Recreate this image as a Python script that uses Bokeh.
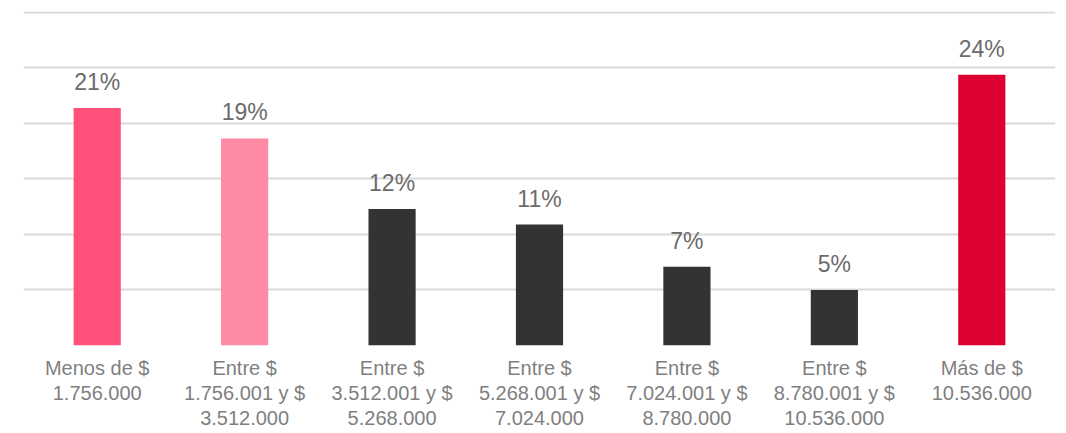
from bokeh.plotting import figure
from bokeh.models import ColumnDataSource, Range1d, FactorRange
from bokeh.core.properties import value
from bokeh.embed import file_html
from bokeh.resources import INLINE

categories = [
    "Menos de $\n1.756.000",
    "Entre $\n1.756.001 y $\n3.512.000",
    "Entre $\n3.512.001 y $\n5.268.000",
    "Entre $\n5.268.001 y $\n7.024.000",
    "Entre $\n7.024.001 y $\n8.780.000",
    "Entre $\n8.780.001 y $\n10.536.000",
    "Más de $\n10.536.000",
]
values = [21.4, 18.65, 12.3, 10.9, 7.1, 5.0, 24.4]
labels = ["21%", "19%", "12%", "11%", "7%", "5%", "24%"]
colors = ["#FF5179", "#FF8AA5", "#333333", "#333333", "#333333", "#333333", "#DE0032"]

src = ColumnDataSource(dict(cat=categories, val=values, lab=labels, col=colors))

p = figure(width=1066, height=433, x_range=FactorRange(factors=categories),
           y_range=Range1d(0, 30.09), output_backend="svg", toolbar_location=None,
           min_border_left=23, min_border_right=11, min_border_top=11, min_border_bottom=88)
p.outline_line_color = None
p.background_fill_color = "white"
p.border_fill_color = "white"

p.vbar(x="cat", top="val", width=0.32, color="col", source=src, line_color=None)
p.text(x="cat", y="val", text="lab", source=src, text_align="center", text_baseline="alphabetic",
       y_offset=-26, text_font=value("Liberation Sans"), text_font_size="23px", text_color="#6B6B6B")

p.yaxis.visible = False
p.xaxis.axis_line_color = None
p.xaxis.major_tick_line_color = None
p.xaxis.minor_tick_line_color = None
p.xaxis.major_label_text_font = "Liberation Sans"
p.xaxis.major_label_text_font_size = "20px"
p.xaxis.major_label_text_color = "#7F7F7F"
p.xaxis.major_label_standoff = 5
p.xaxis.major_label_text_line_height = 1.15

p.xgrid.grid_line_color = None
p.ygrid.grid_line_color = "#D9D9D9"
p.ygrid.grid_line_width = 2
p.yaxis.ticker = [0, 5, 10, 15, 20, 25, 30]
p.ygrid.ticker = p.yaxis[0].ticker

open("out.html", "w").write(file_html(p, INLINE))
